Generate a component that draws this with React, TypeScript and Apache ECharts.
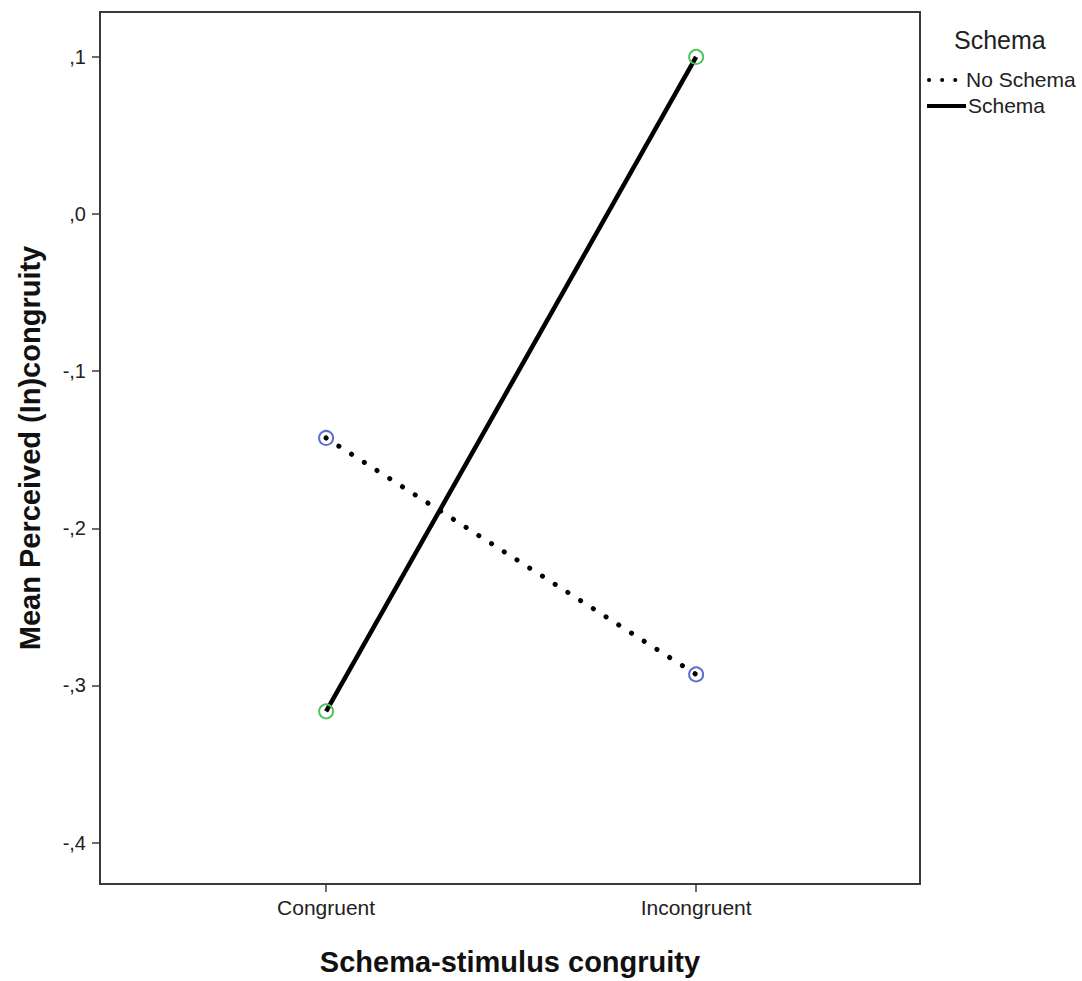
import React, { useEffect, useRef } from "react";
import * as echarts from "echarts";

const categories = ["Congruent", "Incongruent"];
const categoryPositions = [1, 2];
const noSchemaValues = [-0.1425, -0.293];
const schemaValues = [-0.3165, 0.1];
const yTicks = [-0.4, -0.3, -0.2, -0.1, 0.0, 0.1];
const seriesNames = ["No Schema", "Schema"];
const legendTitle = "Schema";
const xTitle = "Schema-stimulus congruity";
const yTitle = "Mean Perceived (In)congruity";

const FONT = "'Liberation Sans', Arial, sans-serif";

function fmtY(v: number): string {
  const r = Math.round(v * 10) / 10;
  const s = Math.abs(r).toFixed(1).replace(/^0/, "").replace(".", ",");
  return r < 0 ? "-" + s : s;
}

export default function App() {
  const ref = useRef<HTMLDivElement>(null);
  useEffect(() => {
    if (!ref.current) return;
    const chart = echarts.init(ref.current, undefined, { renderer: "svg" });
    const frame = "#3a3a3a";
    const option: any = {
      animation: false,
      backgroundColor: "#ffffff",
      grid: {
        left: 100,
        top: 12,
        right: 162,
        bottom: 96,
        show: true,
        borderColor: frame,
        borderWidth: 2,
        backgroundColor: "transparent",
      },
      xAxis: {
        type: "value",
        min: 0.389,
        max: 2.605,
        name: xTitle,
        nameLocation: "middle",
        nameGap: 63,
        nameTextStyle: { fontFamily: FONT, fontSize: 29, fontWeight: "bold", color: "#111" },
        splitLine: { show: false },
        axisLine: { show: true, onZero: false, lineStyle: { color: frame, width: 2 } },
        axisTick: {
          show: true,
          length: 8,
          customValues: categoryPositions,
          lineStyle: { color: frame, width: 1.5 },
        },
        axisLabel: {
          customValues: categoryPositions,
          formatter: (v: number) => categories[categoryPositions.indexOf(Math.round(v))] ?? "",
          fontFamily: FONT,
          fontSize: 21,
          color: "#222",
          margin: 13,
        },
      },
      yAxis: {
        type: "value",
        min: -0.4264,
        max: 0.1286,
        name: yTitle,
        nameLocation: "middle",
        nameGap: 56,
        nameTextStyle: { fontFamily: FONT, fontSize: 29, fontWeight: "bold", color: "#111" },
        splitLine: { show: false },
        axisLine: { show: true, onZero: false, lineStyle: { color: frame, width: 2 } },
        axisTick: {
          show: true,
          length: 8,
          customValues: yTicks,
          lineStyle: { color: frame, width: 1.5 },
        },
        axisLabel: {
          customValues: yTicks,
          formatter: (v: number) => fmtY(v),
          fontFamily: FONT,
          fontSize: 20,
          color: "#222",
          margin: 14,
        },
      },
      series: [
        {
          name: seriesNames[0],
          type: "line",
          data: categoryPositions.map((x, i) => [x, noSchemaValues[i]]),
          symbol: "circle",
          symbolSize: 14,
          itemStyle: { color: "rgba(0,0,0,0)", borderColor: "#5b6fd0", borderWidth: 2 },
          lineStyle: { color: "#000", width: 5, type: [0.1, 15], cap: "round" },
          z: 3,
        },
        {
          name: seriesNames[1],
          type: "line",
          data: categoryPositions.map((x, i) => [x, schemaValues[i]]),
          symbol: "circle",
          symbolSize: 14,
          itemStyle: { color: "rgba(0,0,0,0)", borderColor: "#4ec55a", borderWidth: 2 },
          lineStyle: { color: "#000", width: 4.5, type: "solid" },
          z: 3,
        },
      ],
      graphic: [
        {
          type: "text",
          left: 954,
          top: 27,
          style: { text: legendTitle, fontFamily: FONT, fontSize: 25, fill: "#222" },
        },
        {
          type: "line",
          shape: { x1: 929, y1: 80, x2: 965, y2: 80 },
          style: { stroke: "#000", lineWidth: 4, lineDash: [0.1, 13], lineCap: "round" },
        },
        {
          type: "text",
          left: 966,
          top: 69,
          style: { text: seriesNames[0], fontFamily: FONT, fontSize: 21, fill: "#222" },
        },
        {
          type: "line",
          shape: { x1: 927, y1: 106, x2: 966, y2: 106 },
          style: { stroke: "#000", lineWidth: 4 },
        },
        {
          type: "text",
          left: 968,
          top: 95,
          style: { text: seriesNames[1], fontFamily: FONT, fontSize: 21, fill: "#222" },
        },
      ],
    };
    chart.setOption(option);
    return () => chart.dispose();
  }, []);
  return (
    <div
      ref={ref}
      style={{ position: "fixed", left: 0, top: 0, width: 1082, height: 981, background: "#fff" }}
    />
  );
}
